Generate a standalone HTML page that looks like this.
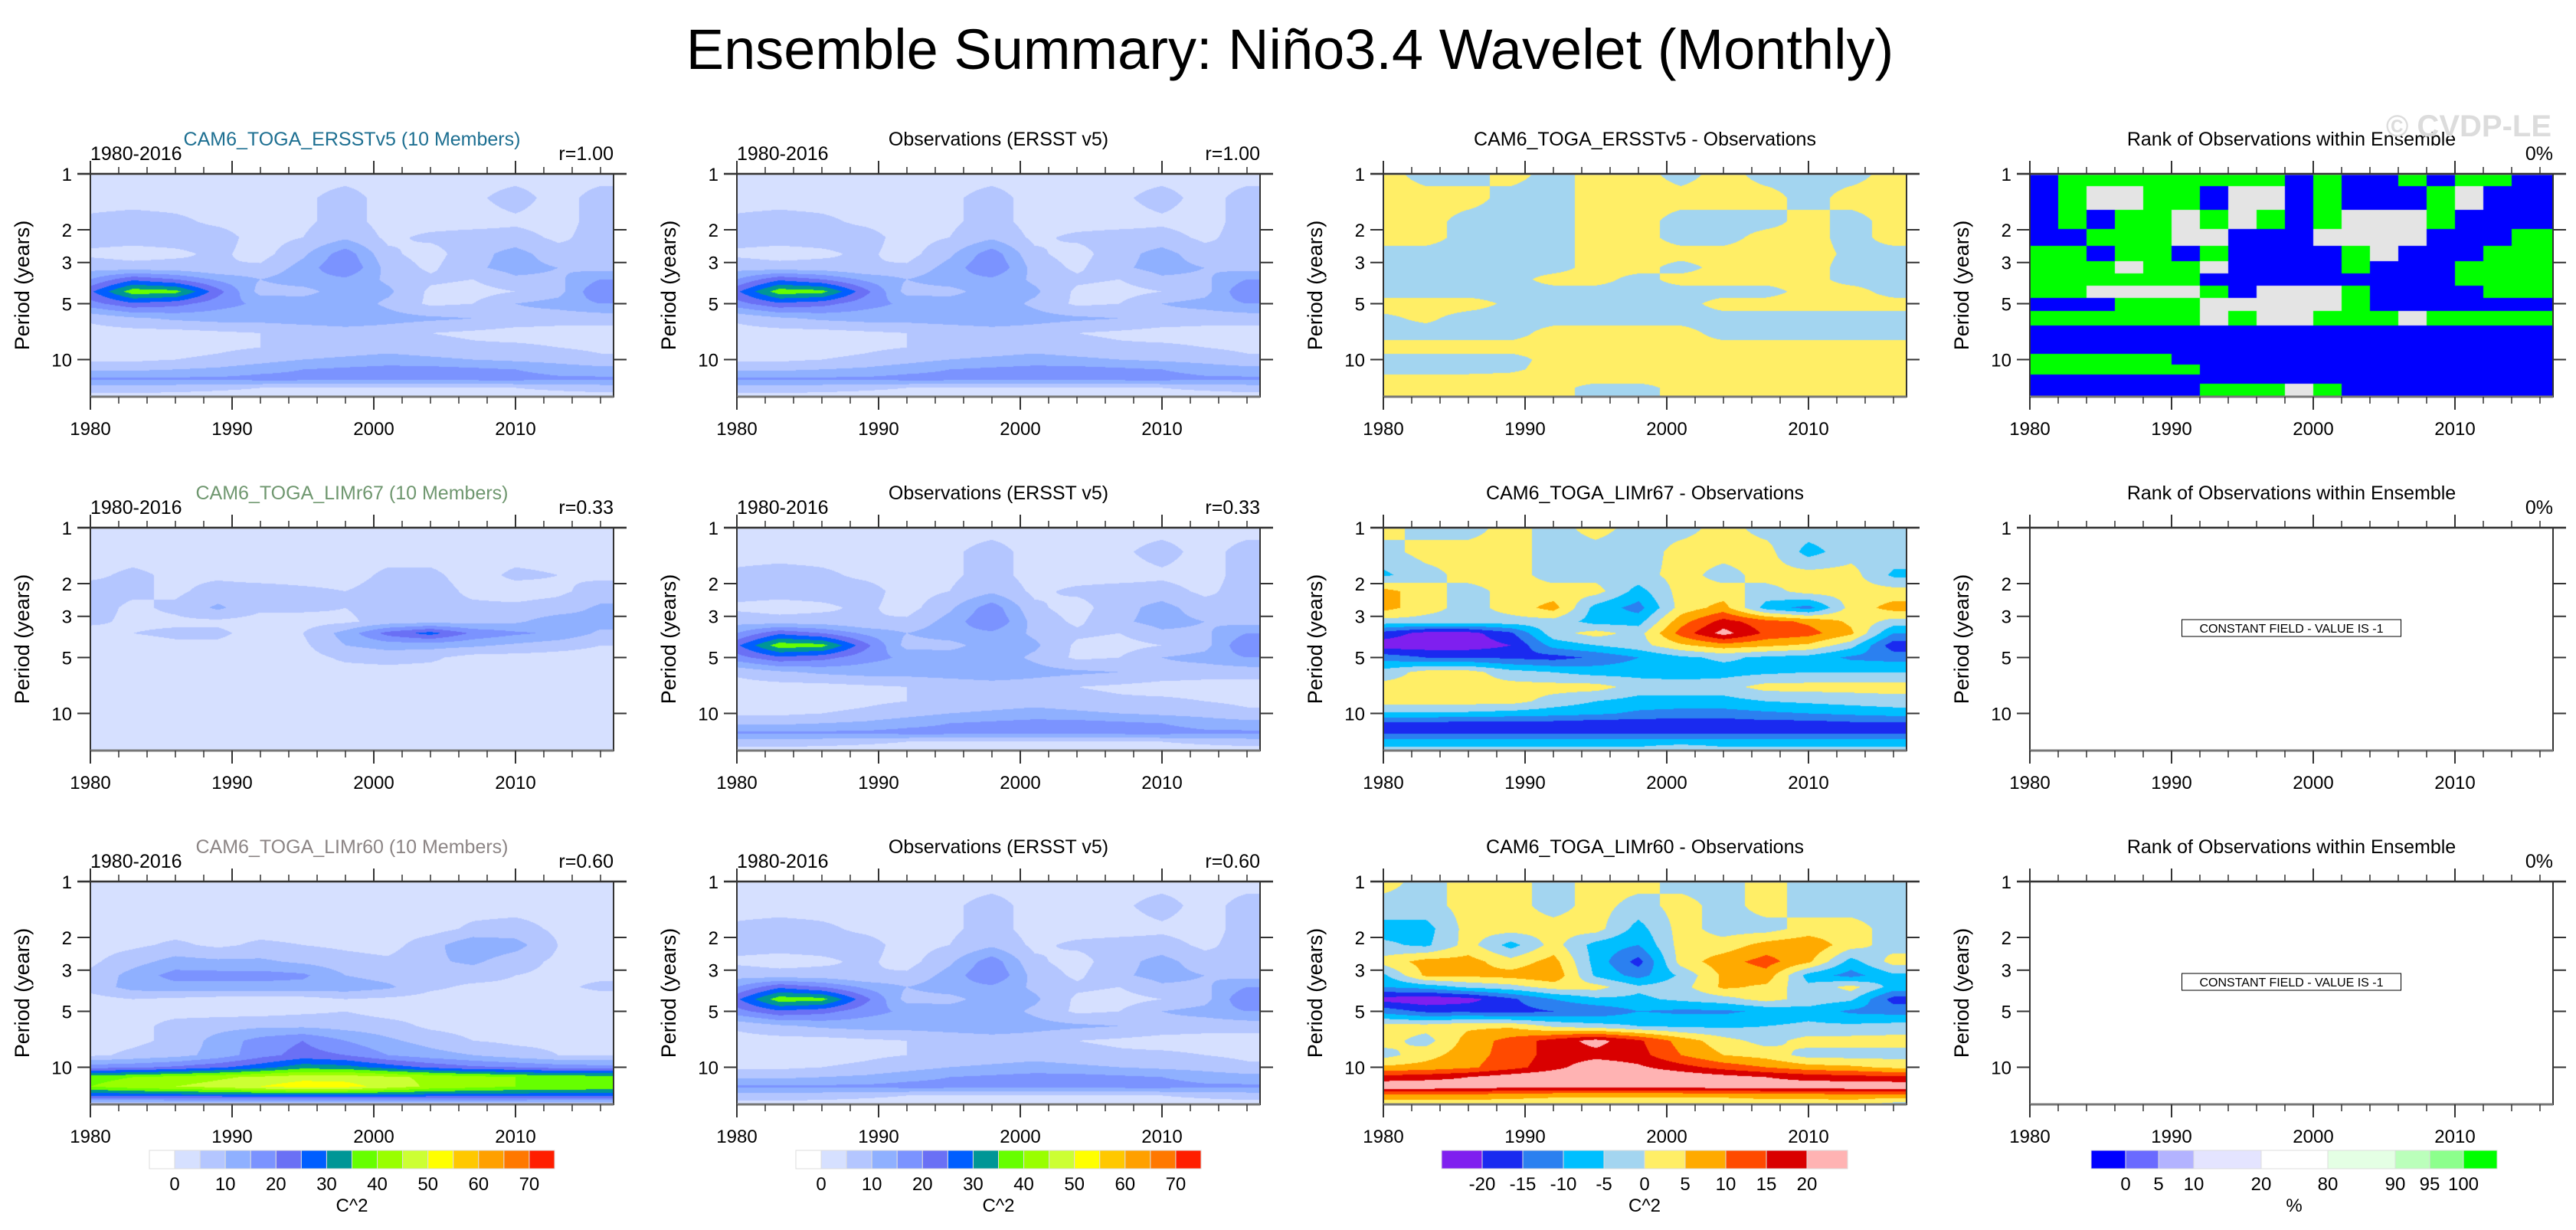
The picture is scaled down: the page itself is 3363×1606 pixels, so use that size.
<!DOCTYPE html>
<html><head><meta charset="utf-8">
<style>
html,body{margin:0;padding:0;background:#fff;}
#page{position:relative;width:3363px;height:1606px;overflow:hidden;background:#fff;font-family:"Liberation Sans",sans-serif;}
canvas{position:absolute;}
#overlay{position:absolute;left:0;top:0;}
</style></head>
<body>
<div id="page">
<svg id="overlay" width="3363" height="1606"></svg>
</div>
<script>
// ---------------- DATA ----------------
const gridYears = [1980,1983,1986,1989,1992,1995,1998,2001,2004,2007,2010,2013,2016];
const gridPeriods = [1,1.35,1.8,2.2,2.7,3.2,3.7,4.3,5,6,7.2,8.6,10,11.3,12.7,14.2,15.8];

const obsPower = [
[3,3,3,3,3,3,3,3,3,3,3,3,3],
[3,3,3,3,3,4,7,3,3,4,7,3,7],
[6,7,6,4,3,4,7,3,3,3,4,3,7],
[7,7,7,7,3,5,9,4,6,7,7,4,7],
[4,3,4,6,3,9,18,6,3,8,12,7,5],
[8,7,7,5,6,12,20,8,4,9,12,10,8],
[15,24,20,14,10,13,14,9,6,5,9,9,15],
[24,38,37,22,8,8,13,11,4,3,5,8,20],
[18,24,22,17,14,13,13,9,4,5,10,12,15],
[6,9,11,12,12,13,14,12,11,10,8,7,7],
[3,3,3,4,5,6,7,7,5,4,3,3,3],
[3,3,3,4,5,6,7,8,7,6,6,5,4],
[4,4,5,6,8,10,11,12,11,10,9,8,6],
[9,9,10,11,13,15,16,17,17,16,15,13,12],
[16,16,16,16,17,17,17,17,17,17,17,16,16],
[8,8,7,6,5,4,4,4,4,4,5,6,7],
[3,3,3,3,3,3,3,3,3,3,3,3,3]];

const ersstModelPower = obsPower;

const limr67Power = [
[3,3,3,3,3,3,3,3,3,3,3,3,3],
[3,3,3,3,3,3,3,3,3,3,3,3,3],
[4,6,4,4,3,3,3,6,6,3,6,5,4],
[7,6,4,7,7,6,5,7,7,4,3,4,7],
[7,4,6,11,6,6,5,7,6,6,6,7,11],
[6,4,4,4,3,3,4,7,8,8,9,13,12],
[3,5,6,6,3,5,12,22,27,19,16,14,9],
[3,3,4,4,3,4,10,12,12,11,9,7,5],
[3,3,3,3,3,3,6,7,6,3,3,3,3],
[3,3,3,3,3,3,3,3,3,3,3,3,3],
[3,3,3,3,3,3,3,3,3,3,3,3,3],
[3,3,3,3,3,3,3,3,3,3,3,3,3],
[3,3,3,3,3,3,3,3,3,3,3,3,3],
[3,3,3,3,3,3,3,3,3,3,3,3,3],
[3,3,3,3,3,3,3,3,3,3,3,3,3],
[3,3,3,3,3,3,3,3,3,3,3,3,3],
[3,3,3,3,3,3,3,3,3,3,3,3,3]];

const limr60Power = [
[3,3,3,3,3,3,3,3,3,3,3,3,3],
[3,3,3,3,3,3,4,3,3,3,3,3,3],
[3,3,3,3,3,3,3,3,3,6,7,4,3],
[3,4,6,4,6,5,4,3,8,14,12,5,3],
[4,8,12,11,11,9,7,6,9,11,7,4,3],
[6,12,17,17,17,16,10,8,7,7,5,4,4],
[7,12,13,13,13,13,13,11,6,4,4,4,6],
[3,5,4,3,3,3,5,4,3,3,3,3,3],
[3,3,3,3,3,4,5,3,3,3,3,3,3],
[3,3,7,8,9,9,8,7,4,3,3,3,3],
[3,4,6,12,17,20,15,11,8,5,4,4,3],
[4,6,8,12,18,22,20,15,12,10,7,5,5],
[18,19,21,24,28,33,32,28,24,21,20,18,17],
[38,40,42,44,46,48,48,46,44,42,40,38,38],
[40,43,45,47,50,53,52,48,44,42,40,40,39],
[26,26,27,27,28,28,28,28,27,27,27,26,26],
[5,5,5,5,5,5,5,5,5,5,5,5,5]];

const diffErsst = [
[2,-2,-2,2,-2,2,2,-2,2,-2,-2,-2,2],
[2,2,2,-2,-2,2,2,2,2,2,-2,2,2],
[2,2,-2,-2,-2,2,2,-2,-2,-2,2,-2,2],
[2,2,-2,-2,-2,2,2,-2,-2,2,2,-2,2],
[-2,-2,-2,-2,-2,2,2,2,2,2,2,-1,-2],
[-2,-2,-2,-2,-2,2,2,-2,2,2,2,-2,-2],
[-2,-2,-2,-2,2,2,-2,2,2,2,2,-2,-2],
[-2,-2,-2,-2,-2,-2,-2,-2,-2,-2,2,2,-2],
[2,2,2,-1,-2,-2,-2,-2,2,2,2,2,2],
[-1,1,-2,-2,-2,-2,-2,-2,-2,-2,-2,-2,-2],
[-2,-2,-2,-2,2,2,2,2,-2,-2,-2,-2,-2],
[2,2,2,2,2,2,2,2,2,2,2,2,2],
[-2,-2,-2,-2,2,2,2,2,2,2,2,2,2],
[-2,-2,-2,-1,2,2,2,2,2,2,2,2,2],
[2,2,2,2,2,2,2,2,2,2,2,2,2],
[2,2,2,2,2,-2,-2,2,2,2,2,2,2],
[2,2,2,2,2,-2,-2,2,2,2,2,2,2]];

const diffLimr67 = [
[2,-2,-2,2,-2,2,-2,-2,2,-2,-2,-2,-2],
[-2,2,2,2,-2,-2,-3,2,2,2,-7,-2,-2],
[-6,-2,2,2,-2,-2,-2,2,-2,2,2,2,-6],
[7,2,-2,2,2,2,-7,2,2,-2,2,2,2],
[7,2,-2,2,7,-7,-12,2,7,-7,-12,2,7],
[-2,-2,-2,-2,-2,-7,-7,8,17,12,9,4,-2],
[-17,-22,-22,-16,-2,2,-2,12,22,14,12,6,-10],
[-23,-23,-23,-20,-8,-5,-2,4,8,6,4,-3,-18],
[-12,-15,-15,-16,-17,-14,-10,-6,-4,-6,-7,-11,-12],
[-3,2,2,-3,-5,-7,-7,-8,-7,-6,-5,-5,-5],
[2,2,2,2,2,2,-2,-2,-2,2,2,2,2],
[2,2,2,2,-2,-5,-7,-7,-7,-5,-4,-3,-2],
[-6,-6,-6,-7,-8,-9,-11,-12,-12,-11,-10,-9,-8],
[-16,-16,-17,-17,-17,-18,-18,-18,-18,-17,-17,-16,-16],
[-16,-16,-16,-16,-16,-16,-16,-16,-16,-16,-16,-16,-16],
[-8,-8,-8,-8,-8,-8,-8,-8,-8,-8,-8,-8,-8],
[-3,-3,-3,-3,-3,-3,-3,1,-3,-3,-3,-3,-3]];

const diffLimr60 = [
[2,-2,2,2,-2,2,2,-2,-2,2,-2,-2,-2],
[-2,-2,2,2,-2,2,-2,2,-2,2,-2,-2,-2],
[-7,-7,2,2,2,2,-7,2,-2,-2,2,2,-2],
[-4,-6,2,-7,2,-7,-10,2,2,7,9,2,-2],
[2,7,7,2,7,-7,-17,2,8,12,6,-7,2],
[-6,6,6,7,9,-6,-12,-4,6,8,-7,-12,-6],
[-10,-8,-4,-2,2,2,-4,-2,6,4,-4,2,-7],
[-22,-24,-22,-16,-10,-6,-6,-4,-2,2,-2,-4,-17],
[-12,-16,-16,-17,-15,-14,-10,-11,-11,-9,-7,-11,-12],
[2,2,4,4,-1,-3,-5,-6,-6,-5,-4,-4,-3],
[2,-2,7,12,17,22,16,8,2,-2,2,2,2],
[-2,3,8,12,17,18,17,10,5,3,-2,-2,-2],
[6,7,9,13,18,24,21,17,13,10,7,6,4],
[17,18,20,23,25,26,25,24,22,20,18,17,16],
[24,24,23,22,22,22,22,22,23,23,23,24,24],
[8,8,8,7,6,6,6,6,6,7,7,8,8],
[2,2,2,2,2,2,2,2,2,2,2,2,-2]];

// rank of observations: B = 0%, G = 100%, W = in-between (grey)
const rankYears = [1980,1982,1984,1986,1988,1990,1992,1994,1996,1998,2000,2002,2004,2006,2008,2010,2012,2014,2016];
const rankPeriods = [1,1.35,1.8,2.2,2.7,3.2,3.7,4.3,5,6,7.2,8.6,10,11.3,12.7,14.2,15.8];
const rankObs = [
"BGGGGGGGGBGBBGBGGBB",
"BGWWGGBWWBGBBBGWBBB",
"BGBGGWGWGBGWWWGBBBB",
"BBGGGWWBBBWWWWBBBGG",
"GGBGGBGBBBBGWBBBGGG",
"GGGWGGWBBBBGBBBGGGG",
"GGGGGGBBBBBBBBBGGGG",
"GGWWWWGBWWWGBBBBGGG",
"BBBGGGWWWWWGBBBBBBB",
"GGGGGGWGWWGGGWGGGGG",
"BBBBBBBBBBBBBBBBBBB",
"BBBBBBBBBBBBBBBBBBB",
"GGGGGBBBBBBBBBBBBBB",
"GGGGGGBBBBBBBBBBBBB",
"BBBBBBBBBBBBBBBBBBB",
"BBBBBBGGGWGBBBBBBBB",
"BBBBBBGGGWGBBBBBBBB"];

const powerLevels = [0,5,10,15,20,25,30,35,40,45,50,55,60,65,70];
const powerColors = ["#ffffff","#d6e0ff","#b4c6ff","#8fb0ff","#7b93ff","#6a70f5","#005eff","#009696","#66ff00","#99ff00","#ccff33","#ffff00","#ffc800","#ffa000","#ff7800","#ff1e00"];
const powerTickLabels = ["0","10","20","30","40","50","60","70"];
const diffLevels = [-20,-15,-10,-5,0,5,10,15,20];
const diffColors = ["#7f1fef","#1a2af0","#2b80f0","#00bfff","#a3d5f0","#ffee66","#ffaa00","#ff4a00","#d90000","#ffb3b3"];
const diffTickLabels = ["-20","-15","-10","-5","0","5","10","15","20"];
const rankColorMap = {B:"#0000ff",G:"#00ff00",W:"#e4e4e4"};
const rankBarColors = ["#0000ff","#6a6aff","#b3b3ff","#e4e4ff","#ffffff","#e4ffe4","#bbffbb","#8cff8c","#00ff00"];
const rankTickLabels = ["0","5","10","20","80","90","95","100"];

// ---------------- LAYOUT ----------------
const colLeft = [118,962,1806,2650];
const rowTop = [227,689,1151];
const PW = 683, PH = 291;
const X0 = 1980, X1 = 2016.92;
const LOGMAX = 1.2;
function xOf(yr, c){ return colLeft[c] + (yr - X0)/(X1 - X0)*PW; }
function yOf(p, r){ return rowTop[r] + Math.log10(p)/LOGMAX*PH; }

const NS = "http://www.w3.org/2000/svg";
const svg = document.getElementById("overlay");
const page = document.getElementById("page");
function mk(tag, attrs){ const e = document.createElementNS(NS, tag); for (const k in attrs) e.setAttribute(k, attrs[k]); svg.appendChild(e); return e; }
function txt(s, x, y, size, anchor, fill){ const t = mk("text", {x:x, y:y, "font-size":size, "text-anchor":anchor||"middle", fill:fill||"#000", "font-family":"Liberation Sans, sans-serif"}); t.textContent = s; return t; }
function hexRgb(h){ return [parseInt(h.substr(1,2),16),parseInt(h.substr(3,2),16),parseInt(h.substr(5,2),16)]; }
function levelColor(v, levels, colors){ let i = 0; while (i < levels.length && v >= levels[i]) i++; return colors[i]; }

const logGridP = gridPeriods.map(Math.log10);
function sampleGrid(grid, yr, p){
  const lp = Math.log10(p);
  let fy = Math.max(0, Math.min(gridYears.length-1.0001, (yr - gridYears[0]) / 3));
  const ix = Math.floor(fy), tx = fy - ix;
  let iy = 0;
  while (iy < logGridP.length-2 && lp > logGridP[iy+1]) iy++;
  let ty = (lp - logGridP[iy])/(logGridP[iy+1]-logGridP[iy]);
  ty = Math.max(0, Math.min(1, ty));
  const a = grid[iy][ix], b = grid[iy][ix+1], c = grid[iy+1][ix], d = grid[iy+1][ix+1];
  return (a*(1-tx)+b*tx)*(1-ty) + (c*(1-tx)+d*tx)*ty;
}
const logRankP = rankPeriods.map(Math.log10);
function sampleRank(yr, p){
  const ci = Math.max(0, Math.min(rankYears.length-1, Math.floor((yr - 1980)/2)));
  const lp = Math.log10(p);
  let best = 0, bd = 1e9;
  for (let i = 0; i < logRankP.length; i++){ const d = Math.abs(logRankP[i]-lp); if (d < bd){ bd = d; best = i; } }
  return rankColorMap[rankObs[best][ci]];
}

function drawField(c, r, colorAt, name){
  const cv = document.createElement("canvas");
  cv.width = PW; cv.height = PH;
  cv.style.left = colLeft[c] + "px"; cv.style.top = rowTop[r] + "px";
  
  
  page.insertBefore(cv, svg);
  const ctx = cv.getContext("2d");
  const img = ctx.createImageData(PW, PH);
  const cache = {};
  for (let py = 0; py < PH; py++){
    const p = Math.pow(10, (py+0.5)/PH*LOGMAX);
    for (let px = 0; px < PW; px++){
      const yr = X0 + (px+0.5)/PW*(X1-X0);
      const col = colorAt(yr, p);
      const rgb = cache[col] || (cache[col] = hexRgb(col));
      const o = (py*PW+px)*4;
      img.data[o] = rgb[0]; img.data[o+1] = rgb[1]; img.data[o+2] = rgb[2]; img.data[o+3] = 255;
    }
  }
  ctx.putImageData(img, 0, 0);
}

function drawAxes(c, r){
  const L = colLeft[c], T = rowTop[r], R = L + PW, B = T + PH;
  const top = mk("line", {x1:L-17, y1:T, x2:R+17, y2:T, stroke:"#888", "stroke-width":3});
  
  
  const fr = mk("rect", {x:L, y:T, width:PW, height:PH, fill:"none", stroke:"#333", "stroke-width":2});
  
  
  const bot = mk("line", {x1:L, y1:B, x2:R, y2:B, stroke:"#777", "stroke-width":3});
  
  
  for (let yr = 1980; yr <= 2016; yr += 2){
    const x = xOf(yr, c), major = (yr % 10 === 0);
    const len = major ? 17 : 9;
    const t1 = mk("line", {x1:x, y1:B, x2:x, y2:B+len, stroke:"#333", "stroke-width":major?2:1.5});
    
    
    const t2 = mk("line", {x1:x, y1:T, x2:x, y2:T-len, stroke:"#333", "stroke-width":major?2:1.5});
    
    
    if (major){
      const lab = txt(String(yr), x, B+50, 24);
      
      
    }
  }
  [1,2,3,5,10].forEach(p => {
    const y = yOf(p, r);
    const a = mk("line", {x1:L-17, y1:y, x2:L, y2:y, stroke:"#333", "stroke-width":2});
    
    
    const b = mk("line", {x1:R, y1:y, x2:R+17, y2:y, stroke:"#333", "stroke-width":2});
    
    
    const lab = txt(String(p), L-24, y+9, 24, "end");
    
    
  });
  const yt = txt("Period (years)", 0, 0, 27);
  yt.setAttribute("transform", "translate(" + (L-80) + "," + (T+PH/2) + ") rotate(-90)");
  
  
}

function titles(c, r, center, color, left, right){
  const cx = colLeft[c] + PW/2, T = rowTop[r];
  const t = txt(center, cx, T-37, 25, "middle", color);
  
  
  if (left){
    const l = txt(left, colLeft[c], T-18, 25, "start");
    
    
  }
  if (right){
    const rr = txt(right, colLeft[c]+PW, T-18, 25, "end");
    
    
  }
}

// ---------------- PANELS ----------------
const powerColor = v => levelColor(v, powerLevels, powerColors);
const diffColor = v => levelColor(v, diffLevels, diffColors);
const models = [
  {field:ersstModelPower, diff:diffErsst, name:"CAM6_TOGA_ERSSTv5", color:"#1d6f91", r:"r=1.00"},
  {field:limr67Power, diff:diffLimr67, name:"CAM6_TOGA_LIMr67", color:"#6f976f", r:"r=0.33"},
  {field:limr60Power, diff:diffLimr60, name:"CAM6_TOGA_LIMr60", color:"#8c8585", r:"r=0.60"}];

models.forEach((m, r) => {
  drawField(0, r, (yr,p) => powerColor(sampleGrid(m.field, yr, p)), "model-wavelet-power");
  drawAxes(0, r);
  titles(0, r, m.name + " (10 Members)", m.color, "1980-2016", m.r);

  drawField(1, r, (yr,p) => powerColor(sampleGrid(obsPower, yr, p)), "observed-wavelet-power");
  drawAxes(1, r);
  titles(1, r, "Observations (ERSST v5)", "#000", "1980-2016", m.r);

  drawField(2, r, (yr,p) => diffColor(sampleGrid(m.diff, yr, p)), "difference-wavelet-power");
  drawAxes(2, r);
  titles(2, r, m.name + " - Observations", "#000", null, null);

  if (r === 0){
    drawField(3, r, (yr,p) => sampleRank(yr, p), "rank-field");
  }
  drawAxes(3, r);
  titles(3, r, "Rank of Observations within Ensemble", "#000", null, "0%");
  if (r > 0){
    const cx = colLeft[3] + PW/2, cy = yOf(3.47, r);
    const box = mk("rect", {x:cx-143, y:cy-11, width:286, height:22, fill:"#fff", stroke:"#000", "stroke-width":1});
    
    
    const ct = txt("CONSTANT FIELD - VALUE IS -1", cx, cy+6, 16);
    
    
  }
});

// ---------------- COLORBARS ----------------
const CBY = 1502, CBH = 24;
function powerBar(c){
  const x0 = colLeft[c] + 77, w = 529/16;
  powerColors.forEach((col, i) => {
    const b = mk("rect", {x:x0+i*w, y:CBY, width:w, height:CBH, fill:col, stroke:"#ddd", "stroke-width":1});
    
    
  });
  powerTickLabels.forEach((s, k) => {
    const t = txt(s, x0 + (1+2*k)*w, CBY+52, 24);
    
    
  });
  const u = txt("C^2", x0+8*w, CBY+80, 24);
  
  
}
powerBar(0); powerBar(1);
(function(){
  const x0 = 1882, w = 53;
  diffColors.forEach((col, i) => {
    const b = mk("rect", {x:x0+i*w, y:CBY, width:w, height:CBH, fill:col, stroke:"#ddd", "stroke-width":1});
    
    
  });
  diffTickLabels.forEach((s, k) => {
    const t = txt(s, x0+(k+1)*w, CBY+52, 24);
    
    
  });
  const u = txt("C^2", x0+5*w, CBY+80, 24);
  
  
})();
(function(){
  const bx = [2730,2775,2818,2864,2952,3039,3127,3172,3216,3260];
  rankBarColors.forEach((col, i) => {
    const b = mk("rect", {x:bx[i], y:CBY, width:bx[i+1]-bx[i], height:CBH, fill:col, stroke:"#ddd", "stroke-width":1});
    
    
  });
  rankTickLabels.forEach((s, k) => {
    const t = txt(s, bx[k+1], CBY+52, 24);
    
    
  });
  const u = txt("%", 2995, CBY+80, 24);
  
  
})();

// ---------------- TITLE ----------------
const mainTitle = txt("Ensemble Summary: Niño3.4 Wavelet (Monthly)", 1684, 90, 74);


const wm = txt("© CVDP-LE", 3331, 178, 40, "end", "#dcdcdc");
wm.setAttribute("font-weight", "bold");


</script>
</body></html>
